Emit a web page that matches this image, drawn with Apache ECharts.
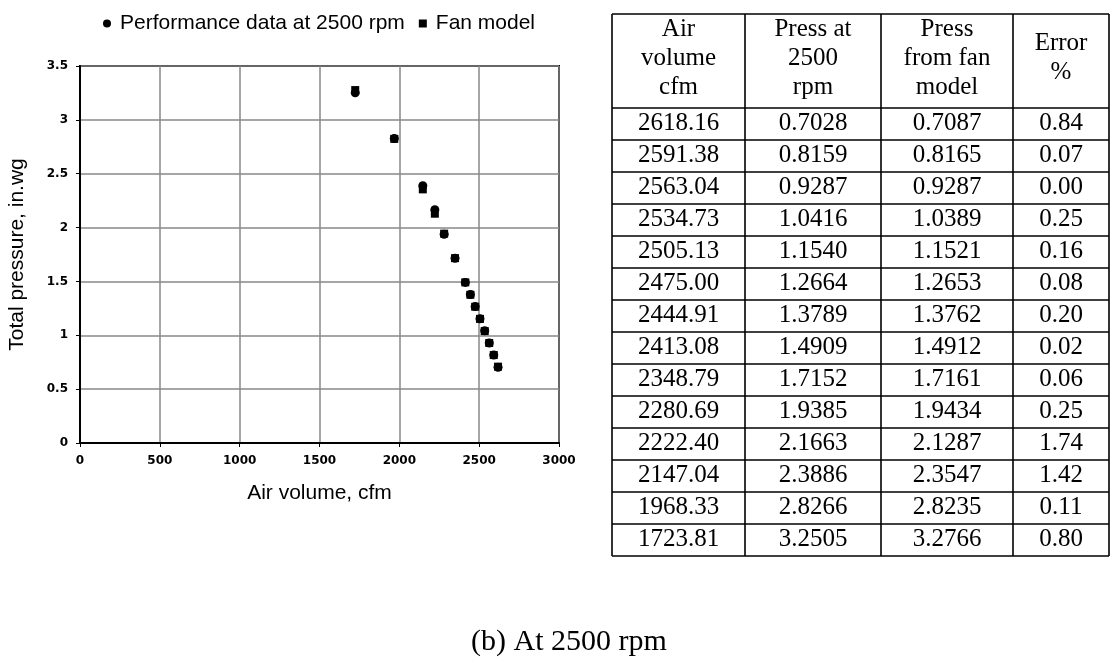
<!DOCTYPE html>
<html>
<head>
<meta charset="utf-8">
<script src="https://cdn.jsdelivr.net/npm/echarts@6/dist/echarts.min.js"></script>
<style>
  html, body { margin: 0; padding: 0; background: #fff; }
  #chart { width: 1112px; height: 663px; }
</style>
</head>
<body>
<div id="chart"></div>
<script>
// ---- Data ----
const airVolume   = [2618.16, 2591.38, 2563.04, 2534.73, 2505.13, 2475.00, 2444.91, 2413.08, 2348.79, 2280.69, 2222.40, 2147.04, 1968.33, 1723.81];
const press2500   = [0.7028, 0.8159, 0.9287, 1.0416, 1.1540, 1.2664, 1.3789, 1.4909, 1.7152, 1.9385, 2.1663, 2.3886, 2.8266, 3.2505];
const pressModel  = [0.7087, 0.8165, 0.9287, 1.0389, 1.1521, 1.2653, 1.3762, 1.4912, 1.7161, 1.9434, 2.1287, 2.3547, 2.8235, 3.2766];
const errorPct    = [0.84, 0.07, 0.00, 0.25, 0.16, 0.08, 0.20, 0.02, 0.06, 0.25, 1.74, 1.42, 0.11, 0.80];
const tableHeaders = ['Air\nvolume\ncfm', 'Press at\n2500\nrpm', 'Press\nfrom fan\nmodel', 'Error\n%'];
const seriesNames = ['Performance data at 2500 rpm', 'Fan model'];
const xTicks = { min: 0, max: 3000, interval: 500 };
const yTicks = { min: 0, max: 3.5, interval: 0.5 };
const captionText = '(b) At 2500 rpm';
const xTitle = 'Air volume, cfm';
const yTitle = 'Total pressure, in.wg';

// ---- Layout ----
const colX = [612, 745, 881, 1013, 1109];
const tableTop = 14, headerBottom = 108, rowH = 32;

const chart = echarts.init(document.getElementById('chart'), null, { renderer: 'canvas' });

// Build table graphic elements from the arrays
const graphics = [];
const nRows = airVolume.length;
const tableBottom = headerBottom + nRows * rowH;
const lineStyle = { stroke: '#000', lineWidth: 1.6 };
const hLines = [tableTop, headerBottom];
for (let r = 1; r <= nRows; r++) hLines.push(headerBottom + r * rowH);
hLines.forEach(y => graphics.push({ type: 'line', shape: { x1: colX[0], y1: y, x2: colX[colX.length - 1], y2: y }, style: lineStyle }));
colX.forEach(x => graphics.push({ type: 'line', shape: { x1: x, y1: tableTop, x2: x, y2: tableBottom }, style: lineStyle }));
const cellFont = '25px "Liberation Serif", "Times New Roman", serif';
tableHeaders.forEach((h, c) => {
  graphics.push({
    type: 'text', x: (colX[c] + colX[c + 1]) / 2, y: (tableTop + headerBottom) / 2 - 3,
    style: { text: h, font: cellFont, fill: '#000', align: 'center', verticalAlign: 'middle', lineHeight: 29 }
  });
});
for (let r = 0; r < nRows; r++) {
  const vals = [airVolume[r].toFixed(2), press2500[r].toFixed(4), pressModel[r].toFixed(4), errorPct[r].toFixed(2)];
  vals.forEach((v, c) => {
    graphics.push({
      type: 'text', x: (colX[c] + colX[c + 1]) / 2, y: headerBottom + r * rowH + rowH / 2 - 1,
      style: { text: v, font: cellFont, fill: '#000', align: 'center', verticalAlign: 'middle' }
    });
  });
}
graphics.push({
  type: 'text', x: 569, y: 642,
  style: { text: captionText, font: '30px "Liberation Serif", "Times New Roman", serif', fill: '#000', align: 'center', verticalAlign: 'middle' }
});

const tickLabel = { color: '#000', fontSize: 12, fontWeight: 'bold', fontFamily: '"DejaVu Sans", Verdana, sans-serif', margin: 12 };

const option = {
  backgroundColor: '#fff',
  animation: false,
  textStyle: { fontFamily: '"Liberation Sans", Arial, sans-serif' },
  legend: {
    left: 98, top: 8,
    itemWidth: 8, itemHeight: 8, itemGap: 14,
    textStyle: { fontSize: 21, color: '#000', fontFamily: '"Liberation Sans", Arial, sans-serif', padding: [0, 0, 0, 4] },
    data: [
      { name: seriesNames[0], icon: 'circle' },
      { name: seriesNames[1], icon: 'rect' }
    ]
  },
  grid: {
    left: 80, right: 553, top: 66, bottom: 220,
    show: true, borderColor: '#000', borderWidth: 2
  },
  xAxis: {
    type: 'value', min: xTicks.min, max: xTicks.max, interval: xTicks.interval,
    name: xTitle, nameLocation: 'middle', nameGap: 40,
    nameTextStyle: { fontSize: 21, color: '#000', fontFamily: '"Liberation Sans", Arial, sans-serif' },
    axisLine: { show: true, lineStyle: { color: '#000', width: 2 } },
    axisTick: { show: true, length: 4, lineStyle: { color: '#000' } },
    axisLabel: Object.assign({ formatter: v => String(v) }, tickLabel),
    splitLine: { show: true, lineStyle: { color: '#888', width: 1.5 } }
  },
  yAxis: {
    type: 'value', min: yTicks.min, max: yTicks.max, interval: yTicks.interval,
    name: yTitle, nameLocation: 'middle', nameGap: 52, nameRotate: 90,
    nameTextStyle: { fontSize: 21, color: '#000', fontFamily: '"Liberation Sans", Arial, sans-serif' },
    axisLine: { show: true, lineStyle: { color: '#000', width: 2 } },
    axisTick: { show: true, length: 4, lineStyle: { color: '#000' } },
    axisLabel: Object.assign({ formatter: v => String(v) }, tickLabel),
    splitLine: { show: true, lineStyle: { color: '#888', width: 1.5 } }
  },
  series: [
    {
      name: seriesNames[0], type: 'scatter', symbol: 'circle', symbolSize: 9,
      itemStyle: { color: '#000', opacity: 1 },
      data: airVolume.map((x, i) => [x, press2500[i]])
    },
    {
      name: seriesNames[1], type: 'scatter', symbol: 'rect', symbolSize: 8,
      itemStyle: { color: '#000', opacity: 1 },
      data: airVolume.map((x, i) => [x, pressModel[i]])
    }
  ],
  graphic: graphics
};
chart.setOption(option);
</script>
</body>
</html>
